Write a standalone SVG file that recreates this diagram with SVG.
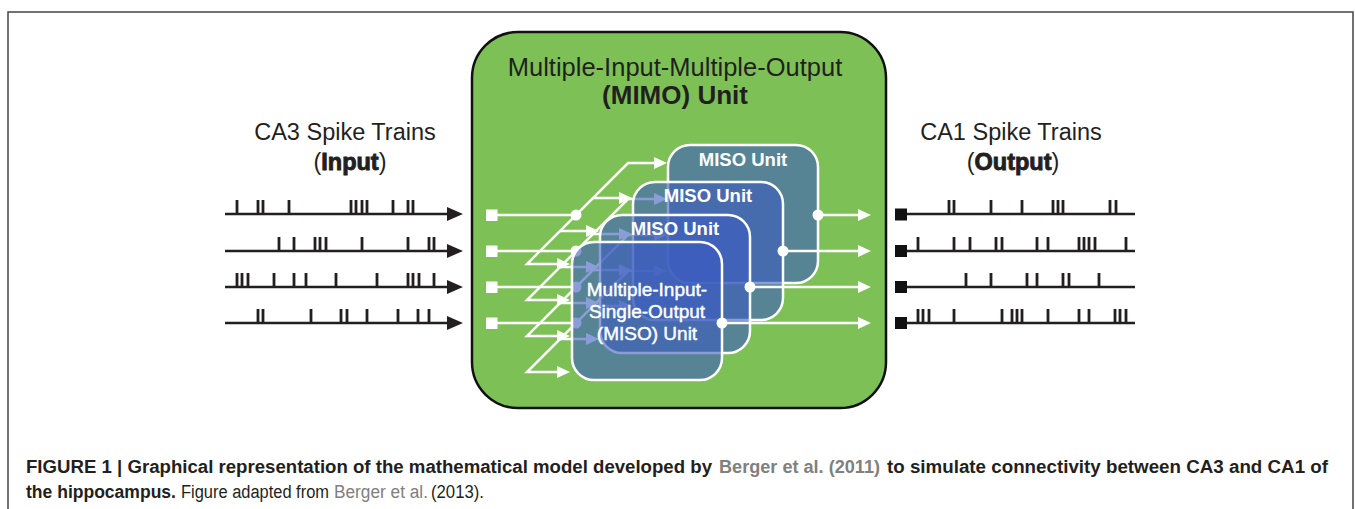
<svg xmlns="http://www.w3.org/2000/svg" width="1355" height="509" viewBox="0 0 1355 509">
<style>
text{font-family:"Liberation Sans",Arial,sans-serif;fill:#231f20}
.lbl{font-size:23.5px}
.heavy{font-weight:bold;stroke:#231f20;stroke-width:0.9}
.title{font-size:25.5px}
.tb{font-size:26px;font-weight:bold}
.miso{fill:#3c5cc0;fill-opacity:0.6;stroke:#fff;stroke-width:2.5}
.mt{fill:#fff;font-weight:bold;font-size:18.5px}
.mf{fill:#fff;font-size:19px;stroke:#fff;stroke-width:0.45}
.w{stroke:#fff;stroke-width:2.5;fill:none}
.wf{fill:#fff}
.blk{stroke:#231f20;stroke-width:2.5;fill:none}
.tick{stroke:#231f20;stroke-width:2.8;fill:none}
.cap{font-size:18px}
.capb{font-size:18px;font-weight:bold}
.gray{fill:#808080}
</style>
<path d="M8,509 V12 H1353 V509" fill="none" stroke="#444" stroke-width="1.5"/>

<g id="input-trains">
<text class="lbl" x="345" y="140" text-anchor="middle">CA3 Spike Trains</text>
<text class="lbl" x="350" y="170" text-anchor="middle">(<tspan class="heavy">Input</tspan>)</text>
<path class="blk" d="M225,214 H450 M225,251 H450 M225,287 H450 M225,323 H450"/>
<path fill="#231f20" d="M447,207 L463,214 L447,221 Z M447,244 L463,251 L447,258 Z M447,280 L463,287 L447,294 Z M447,316 L463,323 L447,330 Z"/>
<path class="tick" d="M237,200V214M258,200V214M263,200V214M289,200V214M351,200V214M356,200V214M362,200V214M367,200V214M393,200V214M408,200V214M413,200V214
M279,237V251M294,237V251M315,237V251M320,237V251M326,237V251M362,237V251M408,237V251M429,237V251M434,237V251
M237,273V287M242,273V287M248,273V287M274,273V287M294,273V287M306,273V287M336,273V287M377,273V287M408,273V287M413,273V287M419,273V287M434,273V287
M258,309V323M263,309V323M311,309V323M341,309V323M347,309V323M367,309V323M398,309V323M418,309V323M429,309V323"/>
</g>

<g id="output-trains">
<text class="lbl" x="1011" y="140" text-anchor="middle">CA1 Spike Trains</text>
<text class="lbl" x="1013" y="170" text-anchor="middle">(<tspan class="heavy">Output</tspan>)</text>
<path class="blk" d="M900,214 H1135 M900,251 H1135 M900,287 H1135 M900,323 H1135"/>
<path fill="#111" d="M895,208.5h12v12h-12z M895,245h12v12h-12z M895,281h12v12h-12z M895,317h12v12h-12z"/>
<path class="tick" d="M949,200V214M954,200V214M991,200V214M1022,200V214M1053,200V214M1058,200V214M1063,200V214M1110,200V214M1116,200V214
M918,237V251M954,237V251M970,237V251M996,237V251M1002,237V251M1037,237V251M1048,237V251M1079,237V251M1084,237V251M1089,237V251M1095,237V251M1126,237V251
M966,273V287M991,273V287M1027,273V287M1037,273V287M1063,273V287M1069,273V287M1099,273V287
M918,309V323M923,309V323M929,309V323M954,309V323M1002,309V323M1012,309V323M1017,309V323M1022,309V323M1048,309V323M1079,309V323M1089,309V323M1115,309V323M1120,309V323M1126,309V323"/>
</g>

<g id="mimo">
<rect x="472" y="32" width="414" height="376" rx="46" fill="#7dc156" stroke="#111" stroke-width="2.5"/>
<text class="title" x="675" y="76" text-anchor="middle">Multiple-Input-Multiple-Output</text>
<text class="tb" x="675" y="104" text-anchor="middle">(MIMO) Unit</text>
</g>

<g id="connectors">
<path class="wf" d="M486,209.5h11.5v11.5h-11.5z M486,245.5h11.5v11.5h-11.5z M486,281.5h11.5v11.5h-11.5z M486,317.5h11.5v11.5h-11.5z"/>
<path class="w" d="M497,215H576 M497,251H576 M497,287H576 M497,323H576"/>
<path class="w" d="M655,163H628L527,264H558 M655,199H628L527,300H558 M655,235H628L527,336H558 M655,271H628L527,372H558"/>
<path class="w" d="M560,231H587 M560,267H587 M560,303H587 M560,339H587 M593,198H620 M593,234H620 M593,270H620 M593,306H620"/>
<path class="wf" d="M654,157L667,163L654,169Z M654,193L667,199L654,205Z M654,229L667,235L654,241Z M654,265L667,271L654,277Z
M619,192L632,198L619,204Z M619,228L632,234L619,240Z M619,264L632,270L619,276Z M619,300L632,306L619,312Z
M586,225L599,231L586,237Z M586,261L599,267L586,273Z M586,297L599,303L586,309Z M586,333L599,339L586,345Z
M557,258L570,264L557,270Z M557,294L570,300L557,306Z M557,330L570,336L557,342Z M557,366L570,372L557,378Z"/>
<circle class="wf" cx="576" cy="215" r="5.5"/>
<circle class="wf" cx="576" cy="251" r="5.5"/>
<circle class="wf" cx="576" cy="287" r="5.5"/>
<circle class="wf" cx="576" cy="323" r="5.5"/>
</g>

<g id="miso-4">
<rect class="miso" x="668" y="145" width="150" height="138" rx="22"/>
<text class="mt" x="743" y="166" text-anchor="middle">MISO Unit</text>
</g>
<g id="miso-3">
<rect class="miso" x="633" y="182" width="150" height="138" rx="22"/>
<text class="mt" x="708" y="202" text-anchor="middle">MISO Unit</text>
</g>
<g id="miso-2">
<rect class="miso" x="600" y="215" width="150" height="138" rx="22"/>
<text class="mt" x="675" y="235" text-anchor="middle">MISO Unit</text>
</g>
<g id="miso-1">
<rect class="miso" x="572" y="242" width="150" height="138" rx="22"/>
<text class="mf" x="647" y="296" text-anchor="middle">Multiple-Input-</text>
<text class="mf" x="647" y="318" text-anchor="middle">Single-Output</text>
<text class="mf" x="647" y="340" text-anchor="middle">(MISO) Unit</text>
</g>

<g id="outputs">
<path class="w" d="M818,215H859 M783,251H859 M750,287H859 M722,323H859"/>
<path class="wf" d="M858,209L871,215L858,221Z M858,245L871,251L858,257Z M858,281L871,287L858,293Z M858,317L871,323L858,329Z"/>
<circle class="wf" cx="818" cy="215" r="5.5"/>
<circle class="wf" cx="783" cy="251" r="5.5"/>
<circle class="wf" cx="750" cy="287" r="5.5"/>
<circle class="wf" cx="722" cy="323" r="5.5"/>
</g>

<g id="caption">
<text class="capb" x="26" y="473" textLength="686" lengthAdjust="spacingAndGlyphs">FIGURE 1 | Graphical representation of the mathematical model developed by</text>
<text class="capb gray" x="719" y="473" textLength="161" lengthAdjust="spacingAndGlyphs">Berger et al. (2011)</text>
<text class="capb" x="887" y="473" textLength="441" lengthAdjust="spacingAndGlyphs">to simulate connectivity between CA3 and CA1 of</text>
<text class="capb" x="26" y="498" textLength="150" lengthAdjust="spacingAndGlyphs">the hippocampus.</text>
<text class="cap" x="181" y="498" textLength="148" lengthAdjust="spacingAndGlyphs">Figure adapted from</text>
<text class="cap gray" x="334" y="498" textLength="94" lengthAdjust="spacingAndGlyphs">Berger et al.</text>
<text class="cap" x="431" y="498" textLength="53" lengthAdjust="spacingAndGlyphs">(2013).</text>
</g>
</svg>
